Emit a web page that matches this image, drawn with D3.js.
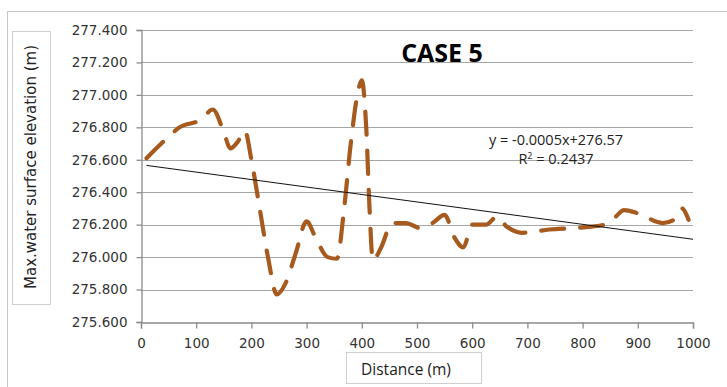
<!DOCTYPE html>
<html>
<head>
<meta charset="utf-8">
<script src="https://cdn.jsdelivr.net/npm/d3@7"></script>
<style>
  body { margin: 0; background: #fff; }
  svg { display: block; }
</style>
</head>
<body>
<div id="chart"></div>
<script>
// size of the page
var chart_width = 727;
var chart_height = 387;

// data
var distance = [10, 40, 70, 110, 130, 150, 162, 175, 188, 200, 215, 230, 246, 262, 280,
                300, 315, 338, 355, 368, 380, 392, 400, 408, 414, 420, 435, 455, 480, 505,
                528, 550, 568, 584, 600, 625, 645, 662, 690, 740, 790, 840, 860, 875, 900,
                945, 970, 980, 992];
var elevation = [276.61, 276.71, 276.80, 276.85, 276.91, 276.77, 276.67, 276.71, 276.78, 276.60,
                 276.30, 276.00, 275.77, 275.84, 276.02, 276.22, 276.13, 276.00, 275.99, 276.30,
                 276.70, 277.00, 277.09, 276.80, 276.30, 275.98, 276.06, 276.21, 276.21, 276.18,
                 276.21, 276.26, 276.12, 276.06, 276.20, 276.20, 276.25, 276.19, 276.15, 276.17,
                 276.18, 276.20, 276.25, 276.29, 276.27, 276.21, 276.24, 276.30, 276.23];

var x_ticks = [0, 100, 200, 300, 400, 500, 600, 700, 800, 900, 1000];
var y_ticks = [275.6, 275.8, 276.0, 276.2, 276.4, 276.6, 276.8, 277.0, 277.2, 277.4];

// trendline
var trend_slope = -0.00046;
var trend_intercept = 276.57;
var trend_range = [10, 1000];
var trend_label = 'y = -0.0005x+276.57';
var r2_label = '0.2437';

var chart_title = 'CASE 5';
var x_title = 'Distance (m)';
var y_title = 'Max.water surface elevation (m)';

var data = distance.map(function(d, i){
    return {x: d, y: elevation[i]};
});

var svg = d3.select('#chart')
            .append('svg')
            .attr('width', chart_width)
            .attr('height', chart_height);

// outer frame (only top and left edges are in the crop)
svg.append('path')
    .attr('d', 'M7.5,387 V11.5 H727')
    .attr('fill', 'none')
    .attr('stroke', '#c4c4c4')
    .attr('stroke-width', 1);

var x = d3.scaleLinear().domain([0, 1000]).range([141, 693]);
var y = d3.scaleLinear().domain([275.6, 277.4]).range([322, 30]);

// gridlines
svg.append('g')
    .selectAll('line')
    .data(y_ticks.slice(1))
    .enter()
    .append('line')
    .attr('x1', x(0))
    .attr('x2', x(1000))
    .attr('y1', function(d){ return Math.round(y(d)) + 0.5; })
    .attr('y2', function(d){ return Math.round(y(d)) + 0.5; })
    .attr('stroke', '#a6a6a6')
    .attr('stroke-width', 1.2);

// axes
var x_axis = d3.axisBottom(x)
               .tickValues(x_ticks)
               .tickSize(6)
               .tickPadding(10)
               .tickFormat(d3.format('d'));

var y_axis = d3.axisLeft(y)
               .tickValues(y_ticks)
               .tickSize(5)
               .tickPadding(9)
               .tickFormat(d3.format('.3f'));

var gx = svg.append('g')
    .attr('transform', 'translate(0,' + (Math.round(y(275.6)) + 0.5) + ')')
    .call(x_axis);

var gy = svg.append('g')
    .attr('transform', 'translate(' + (Math.round(x(0)) + 0.5) + ',0)')
    .call(y_axis);

[gx, gy].forEach(function(g){
    g.select('.domain').attr('stroke', '#8c8c8c').attr('stroke-width', 1.3);
    g.selectAll('.tick line').attr('stroke', '#8c8c8c').attr('stroke-width', 1.3);
    g.selectAll('.tick text')
        .attr('fill', '#333')
        .style('font-family', '"DejaVu Sans", sans-serif')
        .style('font-size', '13.5px');
});

// series
var line = d3.line()
             .x(function(d){ return x(d.x); })
             .y(function(d){ return y(d.y); })
             .curve(d3.curveMonotoneX);

svg.append('path')
    .datum(data)
    .attr('d', line)
    .attr('fill', 'none')
    .attr('stroke', '#a65a1e')
    .attr('stroke-width', 4.2)
    .attr('stroke-linecap', 'round')
    .attr('stroke-dasharray', '23,16');

// linear trendline
svg.append('line')
    .attr('x1', x(trend_range[0]))
    .attr('y1', y(trend_intercept + trend_slope * trend_range[0]))
    .attr('x2', x(trend_range[1]))
    .attr('y2', y(trend_intercept + trend_slope * trend_range[1]))
    .attr('stroke', '#111')
    .attr('stroke-width', 1);

// title
svg.append('text')
    .attr('x', 442)
    .attr('y', 62)
    .attr('text-anchor', 'middle')
    .style('font-family', '"Open Sans", sans-serif')
    .style('font-weight', 'bold')
    .style('font-size', '25px')
    .attr('fill', '#000')
    .text(chart_title);

// trend label
var eq = svg.append('text')
    .attr('text-anchor', 'middle')
    .style('font-family', '"Open Sans", sans-serif')
    .style('font-size', '14.5px')
    .attr('fill', '#222');

eq.append('tspan')
    .attr('x', 556)
    .attr('y', 145)
    .text(trend_label);

var r2 = eq.append('tspan')
    .attr('x', 556)
    .attr('y', 164);
r2.append('tspan').text('R');
r2.append('tspan').attr('dy', -5).style('font-size', '9px').text('2');
r2.append('tspan').attr('dy', 5).text(' = ' + r2_label);

// y axis title box
svg.append('rect')
    .attr('x', 12.5)
    .attr('y', 31.5)
    .attr('width', 38)
    .attr('height', 273)
    .attr('fill', '#fff')
    .attr('stroke', '#cfcfcf');

svg.append('text')
    .attr('transform', 'translate(36,167) rotate(-90)')
    .attr('text-anchor', 'middle')
    .style('font-family', '"DejaVu Sans", sans-serif')
    .style('font-size', '15px')
    .attr('fill', '#222')
    .text(y_title);

// x axis title box
svg.append('rect')
    .attr('x', 346.5)
    .attr('y', 352.5)
    .attr('width', 135)
    .attr('height', 31)
    .attr('fill', '#fff')
    .attr('stroke', '#cfcfcf');

svg.append('text')
    .attr('x', 406)
    .attr('y', 375)
    .attr('text-anchor', 'middle')
    .style('font-family', '"Open Sans", sans-serif')
    .style('font-size', '15.5px')
    .attr('fill', '#222')
    .text(x_title);
</script>
</body>
</html>
